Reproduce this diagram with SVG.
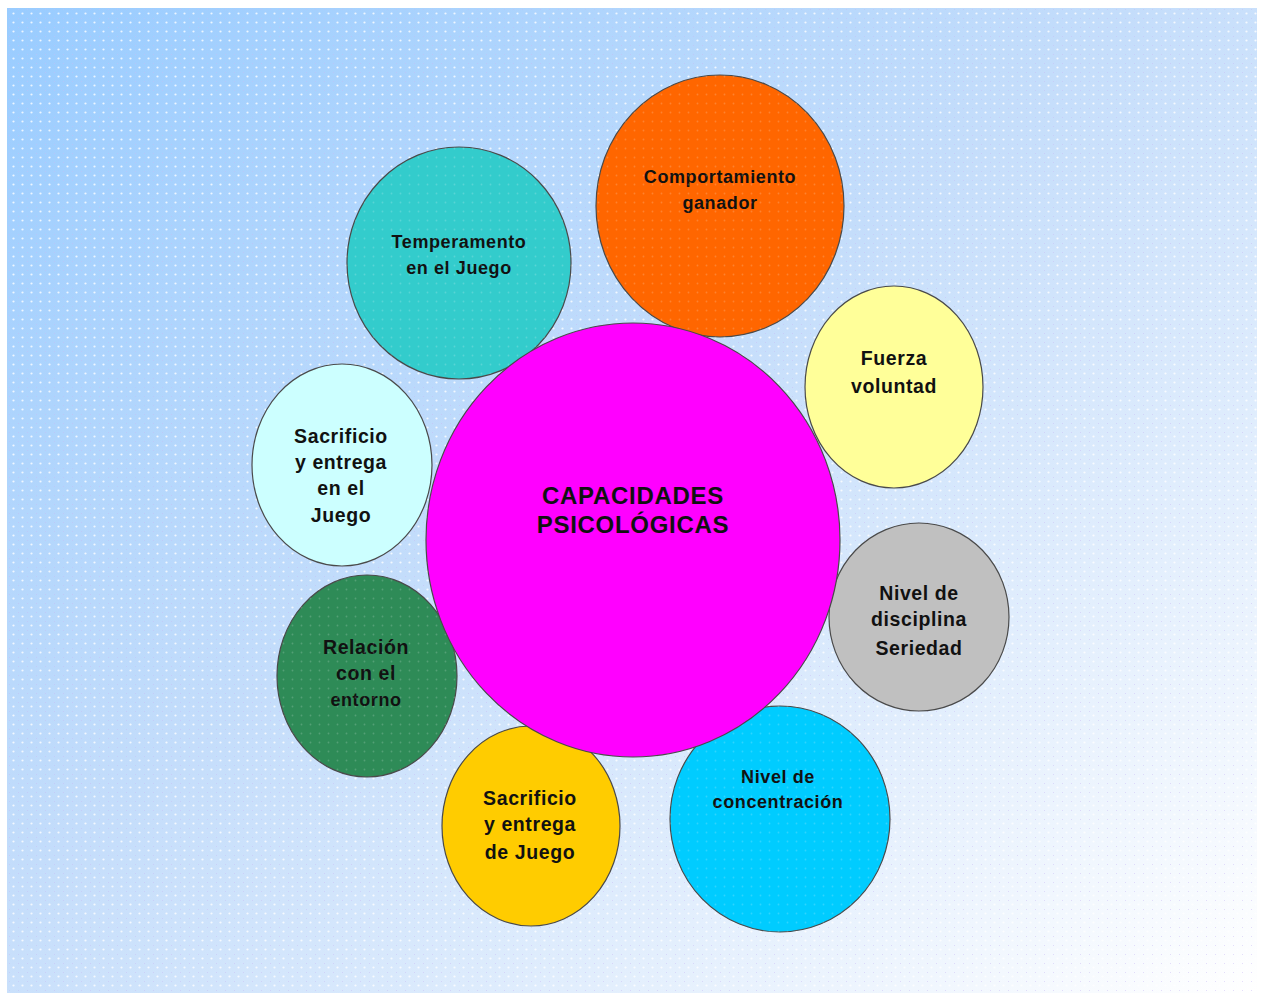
<svg xmlns="http://www.w3.org/2000/svg" width="1261" height="997" viewBox="0 0 1261 997">
<defs>
<linearGradient id="bg" x1="0" y1="0" x2="1" y2="1">
<stop offset="0" stop-color="#99CCFF"/>
<stop offset="0.45" stop-color="#C4DDFB"/>
<stop offset="1" stop-color="#FFFFFF"/>
</linearGradient>
<pattern id="dots" width="9" height="9" patternUnits="userSpaceOnUse">
<circle cx="4.5" cy="4.5" r="1.1" fill="#FFFFFF" opacity="0.8"/>
<circle cx="0" cy="0" r="0.9" fill="#C8B8F4" opacity="0.7"/>
</pattern>
<pattern id="cdots" width="9" height="9" patternUnits="userSpaceOnUse">
<circle cx="4.5" cy="4.5" r="0.9" fill="#FFFFFF" opacity="0.18"/>
</pattern>
</defs>
<style>
.c{stroke:#4a4a4a;stroke-width:1.2}
.t{font-family:"Liberation Sans",Arial,sans-serif;font-weight:bold;fill:#111;text-anchor:middle;letter-spacing:0.6px}
.s{font-size:18px}
.m{font-size:19.5px}
.big{font-size:24px;letter-spacing:0.7px}
</style>
<rect x="0" y="0" width="1261" height="997" fill="#FFFFFF"/>
<rect x="7" y="8" width="1250" height="985" fill="url(#bg)"/>
<rect x="7" y="8" width="1250" height="985" fill="url(#dots)"/>
<g id="temperamento">
<ellipse class="c" cx="459" cy="263" rx="112" ry="116" fill="#33CCCC"/>
<text class="t s" x="459" y="248">Temperamento</text>
<text class="t s" x="459" y="274">en el Juego</text>
</g>
<g id="comportamiento">
<ellipse class="c" cx="720" cy="206" rx="124" ry="131" fill="#FF6600"/>
<text class="t s" x="720" y="183">Comportamiento</text>
<text class="t s" x="720" y="209">ganador</text>
</g>
<g id="fuerza">
<ellipse class="c" cx="894" cy="387" rx="89" ry="101" fill="#FFFF99"/>
<text class="t m" x="894" y="365">Fuerza</text>
<text class="t m" x="894" y="393">voluntad</text>
</g>
<g id="disciplina">
<ellipse class="c" cx="919" cy="617" rx="90" ry="94" fill="#C0C0C0"/>
<text class="t m" x="919" y="600">Nivel de</text>
<text class="t m" x="919" y="626">disciplina</text>
<text class="t m" x="919" y="655">Seriedad</text>
</g>
<g id="concentracion">
<ellipse class="c" cx="780" cy="819" rx="110" ry="113" fill="#00CCFF"/>
<text class="t s" x="778" y="783">Nivel de</text>
<text class="t s" x="778" y="808">concentración</text>
</g>
<g id="sacrificio-de-juego">
<ellipse class="c" cx="531" cy="826" rx="89" ry="100" fill="#FFCC00"/>
<text class="t m" x="530" y="805">Sacrificio</text>
<text class="t m" x="530" y="831">y entrega</text>
<text class="t m" x="530" y="859">de Juego</text>
</g>
<g id="relacion">
<ellipse class="c" cx="367" cy="676" rx="90" ry="101" fill="#2E8B57"/>
<text class="t m" x="366" y="654">Relación</text>
<text class="t m" x="366" y="680">con el</text>
<text class="t s" x="366" y="706">entorno</text>
</g>
<g id="sacrificio-en-el-juego">
<ellipse class="c" cx="342" cy="465" rx="90" ry="101" fill="#CCFFFF"/>
<text class="t m" x="341" y="443">Sacrificio</text>
<text class="t m" x="341" y="469">y entrega</text>
<text class="t m" x="341" y="495">en el</text>
<text class="t m" x="341" y="522">Juego</text>
</g>
<g id="dots-overlay" pointer-events="none">
<ellipse cx="459" cy="263" rx="112" ry="116" fill="url(#cdots)"/>
<ellipse cx="720" cy="206" rx="124" ry="131" fill="url(#cdots)"/>
<ellipse cx="780" cy="819" rx="110" ry="113" fill="url(#cdots)"/>
<ellipse cx="367" cy="676" rx="90" ry="101" fill="url(#cdots)"/>
</g>
<g id="capacidades">
<ellipse class="c" cx="633" cy="540" rx="207" ry="217" fill="#FF00FF"/>
<text class="t big" x="633" y="504">CAPACIDADES</text>
<text class="t big" x="633" y="533">PSICOLÓGICAS</text>
</g>
<g id="connectors"></g>
</svg>
